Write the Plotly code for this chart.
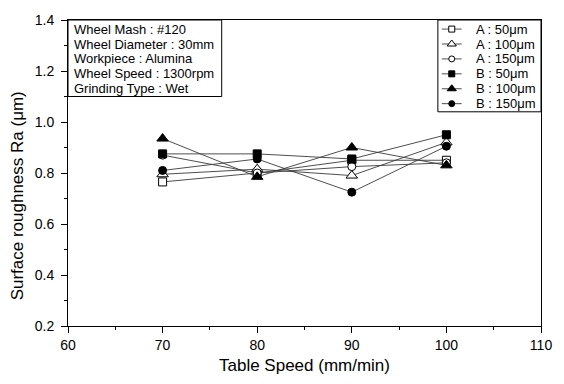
import plotly.graph_objects as go

table_speed = [70, 80, 90, 100]
a_50 = [0.765, 0.800, 0.850, 0.850]
a_100 = [0.795, 0.815, 0.790, 0.920]
a_150 = [0.870, 0.800, 0.825, 0.840]
b_50 = [0.875, 0.875, 0.855, 0.950]
b_100 = [0.935, 0.785, 0.900, 0.830]
b_150 = [0.810, 0.855, 0.725, 0.905]

series_names = ["A : 50μm", "A : 100μm", "A : 150μm", "B : 50μm", "B : 100μm", "B : 150μm"]
series_values = [a_50, a_100, a_150, b_50, b_100, b_150]
symbols = ["square", "triangle-up", "circle", "square", "triangle-up", "circle"]
fills = ["white", "white", "white", "black", "black", "black"]
sizes = [8, 10, 8, 8, 10, 8]

info_lines = ["Wheel Mash : #120", "Wheel Diameter : 30mm", "Workpiece : Alumina",
              "Wheel Speed : 1300rpm", "Grinding Type : Wet"]
x_title = "Table Speed (mm/min)"
y_title = "Surface roughness Ra (μm)"

FONT = "Liberation Sans, Arial, sans-serif"
LINE_COLOR = "#3a3a3a"

# plot-area geometry in pixels (used by an invisible overlay axis for the legend / info box)
PL, PR, PT, PB = 68, 545, 13, 333

fig = go.Figure()
for name, vals, sym, fc, sz in zip(series_names, series_values, symbols, fills, sizes):
    fig.add_trace(go.Scatter(
        x=table_speed, y=vals, name=name, mode="lines+markers", showlegend=False,
        line=dict(color=LINE_COLOR, width=0.9),
        marker=dict(symbol=sym, size=sz, color=fc, line=dict(color="black", width=1)),
    ))

# --- custom compact legend (drawn on an invisible pixel-scaled overlay axis) ---
LEG_X0, LEG_X1, LEG_Y0, LEG_Y1 = 441, PR, PT, 109
leg_row0, leg_step = 22.5, 15.6
for i, (name, sym, fc, sz) in enumerate(zip(series_names, symbols, fills, sizes)):
    yy = leg_row0 + leg_step * i
    fig.add_trace(go.Scatter(
        x=[445, 455, 465], y=[yy, yy, yy], xaxis="x2", yaxis="y2",
        mode="lines+markers", showlegend=False, hoverinfo="skip",
        line=dict(color=LINE_COLOR, width=0.9),
        marker=dict(symbol=sym, size=[sz - 2, sz - 2, sz - 2], color=fc,
                    opacity=[0, 1, 0], line=dict(color="black", width=1)),
    ))
    fig.add_annotation(xref="x2", yref="y2", x=477, y=yy, xanchor="left", yanchor="middle",
                       text=name, showarrow=False, font=dict(family=FONT, size=13, color="black"))
fig.add_shape(type="rect", xref="x2", yref="y2", x0=LEG_X0, x1=LEG_X1, y0=LEG_Y0, y1=LEG_Y1,
              line=dict(color="black", width=1), fillcolor="rgba(0,0,0,0)", layer="above")

# --- info box ---
BOX_X0, BOX_X1, BOX_Y0, BOX_Y1 = PL, 223, PT, 93
for i, t in enumerate(info_lines):
    fig.add_annotation(xref="x2", yref="y2", x=72, y=22.5 + 15.6 * i, xanchor="left",
                       yanchor="middle", text=t, showarrow=False,
                       font=dict(family=FONT, size=13, color="black"))
fig.add_shape(type="rect", xref="x2", yref="y2", x0=BOX_X0, x1=BOX_X1, y0=BOX_Y0, y1=BOX_Y1,
              line=dict(color="black", width=1), fillcolor="rgba(0,0,0,0)", layer="above")

# --- y-axis title (placed as in the original, slightly below the axis centre) ---
fig.add_annotation(xref="paper", yref="paper",
                   x=(18 - PL) / (PR - PL), y=(PB - 197) / (PB - PT),
                   xanchor="center", yanchor="middle",
                   text=y_title, textangle=-90, showarrow=False,
                   font=dict(family=FONT, size=17, color="black"))

fig.update_layout(
    width=564, height=384,
    margin=dict(l=PL, r=564 - PR, t=PT, b=384 - PB),
    paper_bgcolor="white", plot_bgcolor="white",
    font=dict(family=FONT, size=14, color="black"),
    showlegend=False,
    xaxis=dict(
        range=[60, 110], dtick=10, tick0=60,
        showline=True, linecolor="black", linewidth=1, mirror=True,
        ticks="outside", ticklen=6, tickcolor="black", ticklabeloverflow="allow",
        minor=dict(dtick=5, ticks="outside", ticklen=3, tickcolor="black"),
        showgrid=False, zeroline=False,
        title=dict(text=x_title, font=dict(size=17), standoff=7),
    ),
    yaxis=dict(
        range=[0.2, 1.4], dtick=0.2, tick0=0.2, tickformat=".1f",
        showline=True, linecolor="black", linewidth=1, mirror=True,
        ticks="outside", ticklen=6, tickcolor="black", ticklabelstandoff=4,
        minor=dict(dtick=0.1, ticks="outside", ticklen=3, tickcolor="black"),
        showgrid=False, zeroline=False,
    ),
    xaxis2=dict(domain=[0, 1], range=[PL, PR], overlaying="x", anchor="y2", visible=False,
                fixedrange=True),
    yaxis2=dict(domain=[0, 1], range=[PB, PT], overlaying="y", anchor="x2", visible=False,
                fixedrange=True),
)

fig.write_html("out.html", config={"displayModeBar": False},
               post_script="document.body.style.margin='0px';")
